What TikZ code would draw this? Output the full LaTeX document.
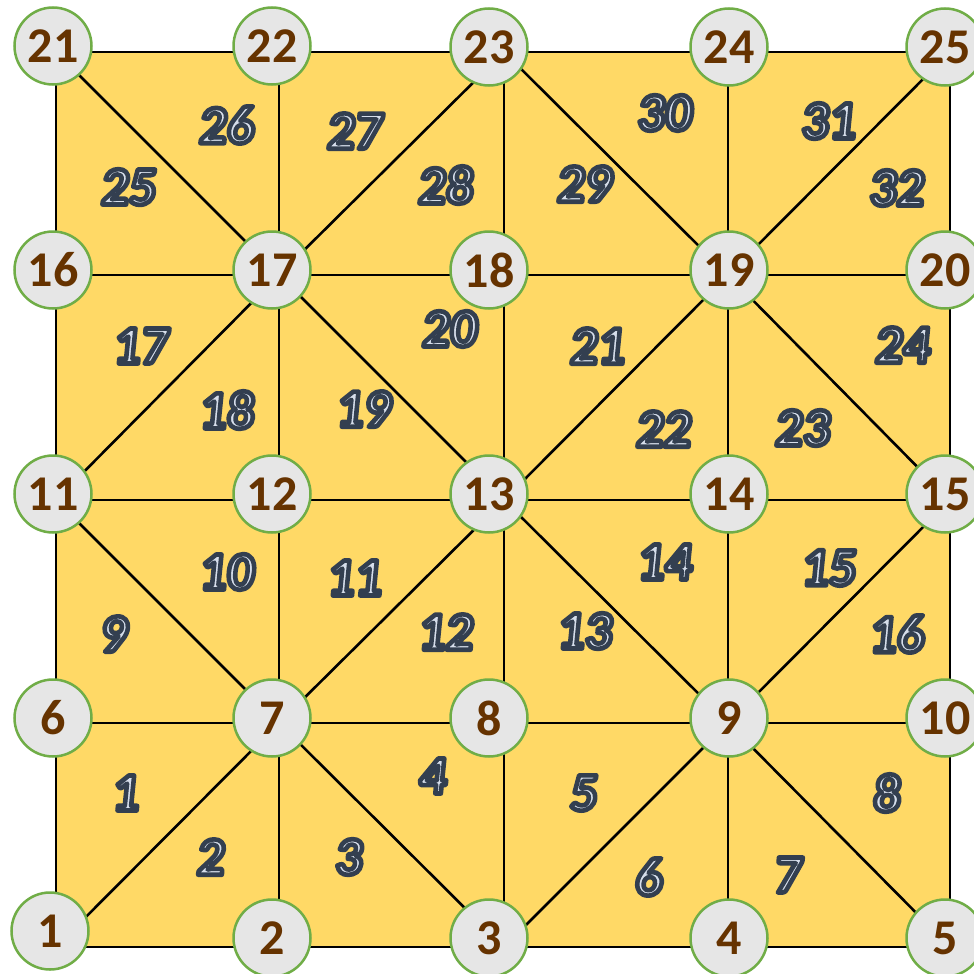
\documentclass[tikz,border=0pt]{standalone}
\usepackage{fontspec}
\setmainfont{Carlito}
\newfontfamily\lblfont{Carlito}[UprightFont=* Bold, FakeSlant=0.1]
\definecolor{gold}{HTML}{FFD966}
\definecolor{nodefill}{HTML}{E6E6E6}
\definecolor{nodeedge}{HTML}{70AD47}
\definecolor{nodetext}{HTML}{663300}
\tikzset{
  vtx/.style={circle, minimum size=77pt, inner sep=0pt, fill=nodefill, draw=nodeedge, line width=2.5pt, text=nodetext, font=\fontsize{50}{50}\selectfont\bfseries},
  edge/.style={line width=2.6pt, black},
  tri/.style={inner sep=0pt, font=\lblfont\fontsize{54}{54}\selectfont}
}
\newcommand{\tl}[1]{\special{pdf:literal direct 2 Tr 4.6 w 1 j 0.2 0.247 0.314 RG 0.84 0.87 0.92 rg}#1\special{pdf:literal direct 0 Tr 0 0 0 RG 0 0 0 rg}}
\begin{document}
\begin{tikzpicture}[x=1pt,y=-1pt]
\useasboundingbox (0,0) rectangle (974,974);
% grid corners
\coordinate (c1) at (56,947); \coordinate (c2) at (279,947); \coordinate (c3) at (504,947); \coordinate (c4) at (728,947); \coordinate (c5) at (950,947);
\coordinate (c6) at (56,723); \coordinate (c7) at (279,723); \coordinate (c8) at (504,723); \coordinate (c9) at (728,723); \coordinate (c10) at (950,723);
\coordinate (c11) at (56,500); \coordinate (c12) at (279,500); \coordinate (c13) at (504,500); \coordinate (c14) at (728,500); \coordinate (c15) at (950,500);
\coordinate (c16) at (56,275); \coordinate (c17) at (279,275); \coordinate (c18) at (504,275); \coordinate (c19) at (728,275); \coordinate (c20) at (950,275);
\coordinate (c21) at (56,52); \coordinate (c22) at (279,52); \coordinate (c23) at (504,52); \coordinate (c24) at (728,52); \coordinate (c25) at (950,52);
\fill[gold] (c1) rectangle (c25);
% grid lines
\draw[edge] (c1) -- (c21) (c2) -- (c22) (c3) -- (c23) (c4) -- (c24) (c5) -- (c25);
\draw[edge] (c1) -- (c5) (c6) -- (c10) (c11) -- (c15) (c16) -- (c20) (c21) -- (c25);
% diagonals
\draw[edge] (c21) -- (c17) (c17) -- (c23) (c23) -- (c19) (c19) -- (c25);
\draw[edge] (c11) -- (c17) (c17) -- (c13) (c13) -- (c19) (c19) -- (c15);
\draw[edge] (c11) -- (c7) (c7) -- (c13) (c13) -- (c9) (c9) -- (c15);
\draw[edge] (c1) -- (c7) (c7) -- (c3) (c3) -- (c9) (c9) -- (c5);
% triangle labels
\node[tri] (t1) at (125,793) {\tl{1}};
\node[tri] (t2) at (210,857) {\tl{2}};
\node[tri] (t3) at (348,857) {\tl{3}};
\node[tri] (t4) at (432,776) {\tl{4}};
\node[tri] (t5) at (583,793) {\tl{5}};
\node[tri] (t6) at (648,877) {\tl{6}};
\node[tri] (t7) at (787,875) {\tl{7}};
\node[tri] (t8) at (886,793) {\tl{8}};
\node[tri] (t9) at (113,634) {\tl{9}};
\node[tri] (t10) at (226,572) {\tl{10}};
\node[tri] (t11) at (354,578) {\tl{11}};
\node[tri] (t12) at (445,632) {\tl{12}};
\node[tri] (t13) at (584,631) {\tl{13}};
\node[tri] (t14) at (664,562) {\tl{14}};
\node[tri] (t15) at (828,568) {\tl{15}};
\node[tri] (t16) at (896,634) {\tl{16}};
\node[tri] (t17) at (140,346) {\tl{17}};
\node[tri] (t18) at (226,410) {\tl{18}};
\node[tri] (t19) at (363,409) {\tl{19}};
\node[tri] (t20) at (449,329) {\tl{20}};
\node[tri] (t21) at (597,346) {\tl{21}};
\node[tri] (t22) at (663,429) {\tl{22}};
\node[tri] (t23) at (802,428) {\tl{23}};
\node[tri] (t24) at (902,345) {\tl{24}};
\node[tri] (t25) at (128,187) {\tl{25}};
\node[tri] (t26) at (226,125) {\tl{26}};
\node[tri] (t27) at (354,131) {\tl{27}};
\node[tri] (t28) at (445,185) {\tl{28}};
\node[tri] (t29) at (584,184) {\tl{29}};
\node[tri] (t30) at (664,113) {\tl{30}};
\node[tri] (t31) at (828,121) {\tl{31}};
\node[tri] (t32) at (896,188) {\tl{32}};
% vertex nodes
\node[vtx] (n21) at (53,46) {21}; \node[vtx] (n22) at (272,46) {22}; \node[vtx] (n23) at (489,47) {23}; \node[vtx] (n24) at (729,47) {24}; \node[vtx] (n25) at (945,47) {25};
\node[vtx] (n16) at (53,270) {16}; \node[vtx] (n17) at (272,270) {17}; \node[vtx] (n18) at (489,270) {18}; \node[vtx] (n19) at (729,270) {19}; \node[vtx] (n20) at (945,270) {20};
\node[vtx] (n11) at (53,494) {11}; \node[vtx] (n12) at (272,494) {12}; \node[vtx] (n13) at (489,494) {13}; \node[vtx] (n14) at (729,494) {14}; \node[vtx] (n15) at (945,494) {15};
\node[vtx] (n6) at (53,718) {6}; \node[vtx] (n7) at (272,718) {7}; \node[vtx] (n8) at (489,718) {8}; \node[vtx] (n9) at (729,718) {9}; \node[vtx] (n10) at (945,718) {10};
\node[vtx] (n1) at (50,931) {1}; \node[vtx] (n2) at (272,938) {2}; \node[vtx] (n3) at (489,938) {3}; \node[vtx] (n4) at (729,938) {4}; \node[vtx] (n5) at (945,938) {5};
\end{tikzpicture}
\end{document}
